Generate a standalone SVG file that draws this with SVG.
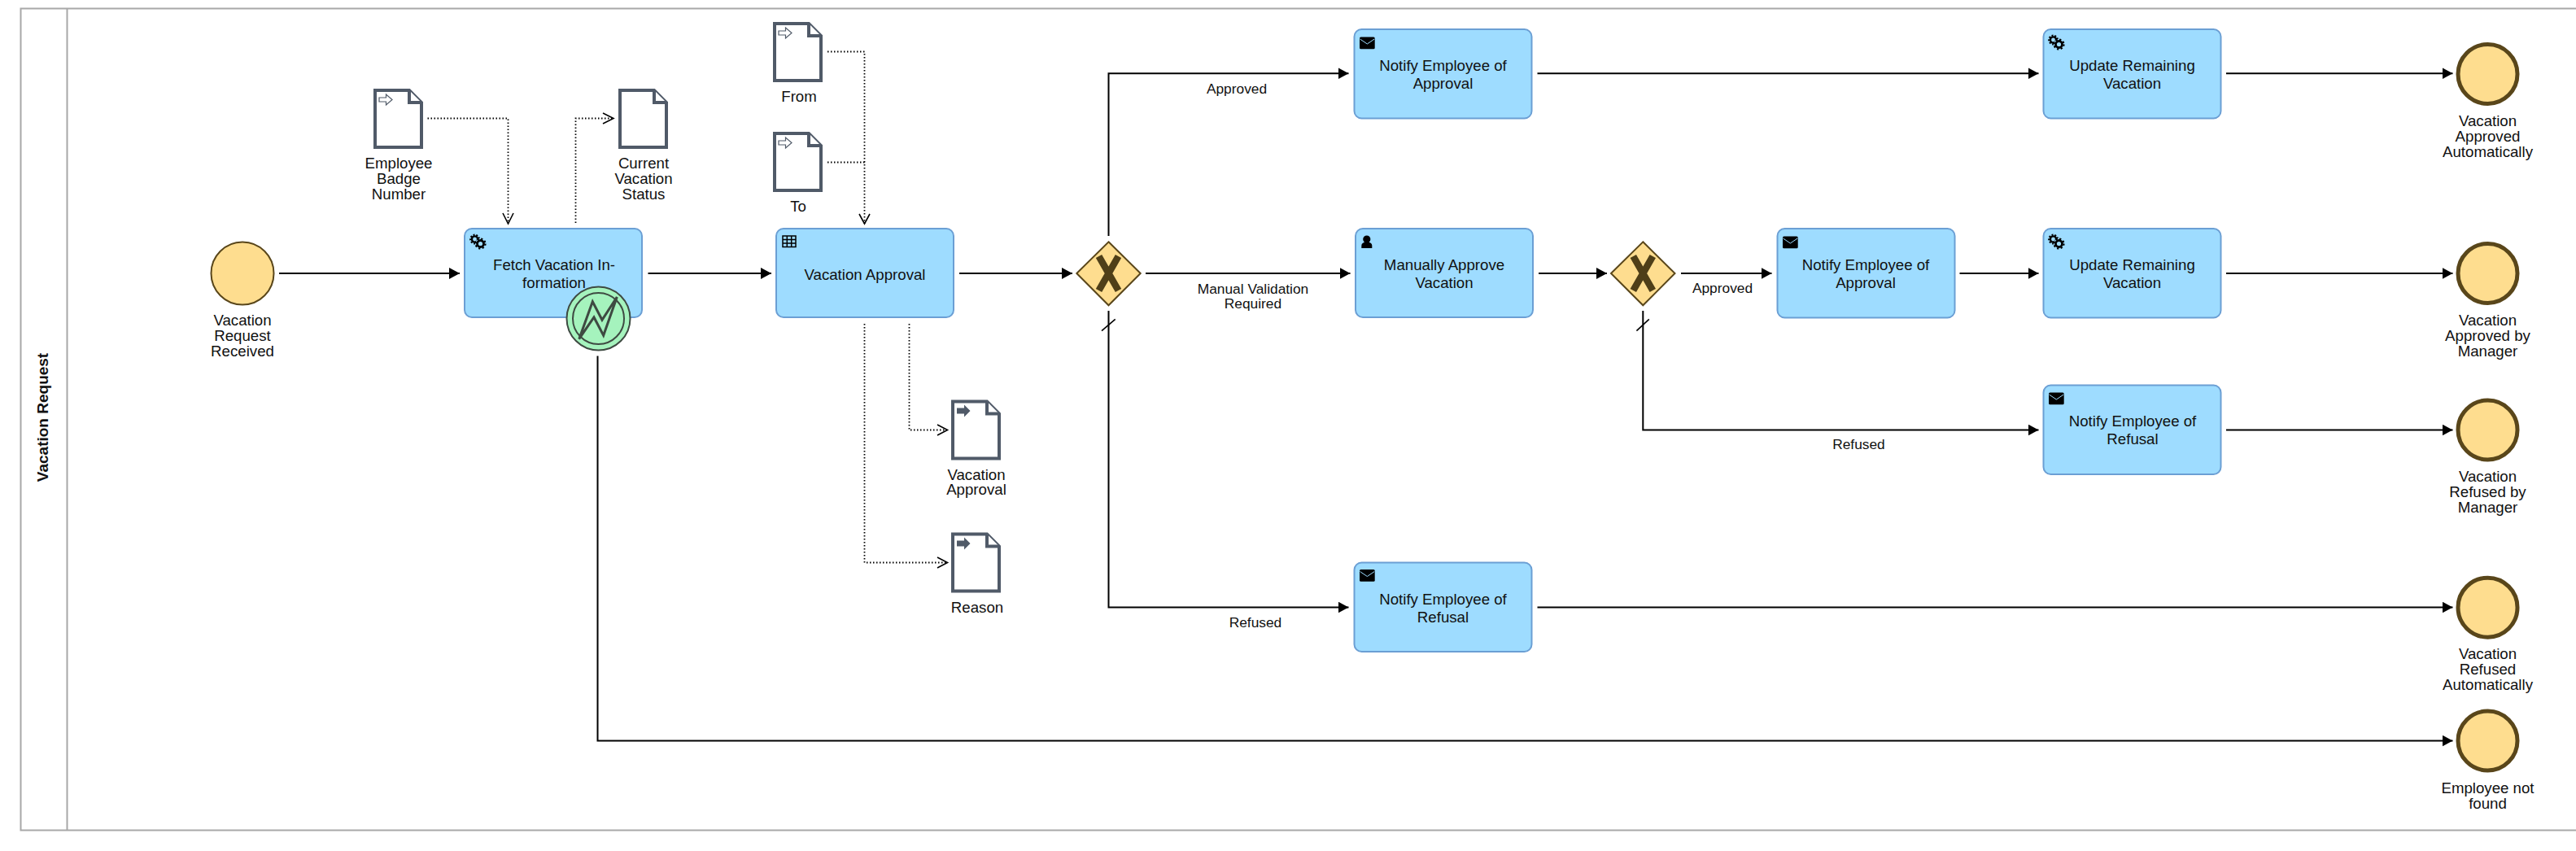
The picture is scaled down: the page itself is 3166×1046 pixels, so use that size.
<svg xmlns="http://www.w3.org/2000/svg" width="3166" height="1046" viewBox="0 0 3166 1046">
<style>
text{font-family:"Liberation Sans",Arial,sans-serif;fill:#111;text-anchor:middle}
.t,.l{font-size:18.670px}.f{font-size:17.330px}
.task{fill:#9edcff;stroke:#6b9fd4;stroke-width:2}
.ev{fill:#fedd8f;stroke:#59461a}
.gw{fill:#fedd8f;stroke:#59461a;stroke-width:2}
.x{fill:none;stroke:#4f3f18;stroke-width:8.500}
.doc{fill:#fff;stroke:#505a68;stroke-width:4}
.seq{fill:none;stroke:#000;stroke-width:2;marker-end:url(#a)}
.dot{fill:none;stroke:#000;stroke-width:1.800;stroke-dasharray:1.500 2.500}
.op{fill:none;stroke:#000;stroke-width:1.600}
</style>
<defs>
<marker id="a" markerUnits="userSpaceOnUse" markerWidth="14" markerHeight="16" refX="13" refY="7" orient="auto"><path d="M0 0L13 7L0 14z"/></marker>
<g id="gear"><circle cx="5.500" cy="6" r="3.600" fill="none" stroke="#000" stroke-width="2.400"/><circle cx="5.500" cy="6" r="5.400" fill="none" stroke="#000" stroke-width="2" stroke-dasharray="2 1.800"/><circle cx="12.500" cy="11.500" r="6.400" fill="#9edcff"/><circle cx="12.500" cy="11.500" r="4" fill="none" stroke="#000" stroke-width="2.800"/><circle cx="12.500" cy="11.500" r="6" fill="none" stroke="#000" stroke-width="2.200" stroke-dasharray="2.200 2.500"/></g>
<g id="mail"><rect width="18.700" height="14.700" rx="1.500" fill="#000"/><path d="M0.500 2.500L9.350 8.500L18.200 2.500" fill="none" stroke="#9edcff" stroke-width="1"/></g>
<g id="docin"><path class="doc" d="M2 2H44L59 17V72H2Z"/><path class="doc" d="M44 2V17H59"/><path d="M7 11H15.500V7L23 13.500L15.500 20V16H7Z" fill="#fff" stroke="#505a68" stroke-width="1.200"/></g>
<g id="docout"><path class="doc" d="M2 2H44L59 17V72H2Z"/><path class="doc" d="M44 2V17H59"/><path d="M7 10H16V6L23.500 13.500L16 21V17H7Z" fill="#505a68"/></g>
</defs>
<g id="pool"><rect x="25.500" y="10.500" width="3145" height="1010" fill="#fff" stroke="#a8a8a8" stroke-width="2"/><line x1="82.500" y1="10.500" x2="82.500" y2="1020.500" stroke="#a8a8a8" stroke-width="2"/><text transform="translate(59 513) rotate(-90)" style="font-size:19px;font-weight:bold">Vacation Request</text></g>
<g id="connectors">
<path class="seq" d="M343 336H565"/>
<path class="seq" d="M796.500 336H948"/>
<path class="seq" d="M1179 336H1318"/>
<path class="seq" d="M1362.500 290V90.300H1657.500"/>
<path class="seq" d="M1408 336H1659.500"/>
<path class="seq" d="M1362.500 382V746.500H1657.500"/>
<path class="op" d="M1354 406.700L1370.700 392.300"/>
<path class="seq" d="M1891 336H1975"/>
<path class="seq" d="M2066 336H2177.500"/>
<path class="seq" d="M2019.300 382V528.500H2505.500"/>
<path class="op" d="M2011.400 406.700L2026.800 392.300"/>
<path class="seq" d="M2408.500 336H2505.500"/>
<path class="seq" d="M1889.500 90.300H2505.500"/>
<path class="seq" d="M2736 90.300H3014.500"/>
<path class="seq" d="M2736 336H3014.500"/>
<path class="seq" d="M2736 528.500H3014.500"/>
<path class="seq" d="M1889.500 746.500H3014.500"/>
<path class="seq" d="M734.500 437.500V910.500H3014.500"/>
<path class="dot" d="M525.500 145.500H624.500V275"/><path class="op" d="M618 262L624.500 275L631 262"/>
<path class="dot" d="M707.500 274V145.500H753"/><path class="op" d="M741 139L754 145.500L741 152"/>
<path class="dot" d="M1017 63.500H1062.500V275"/><path class="dot" d="M1017 199.500H1062.500"/><path class="op" d="M1056 263L1062.500 275L1069 263"/>
<path class="dot" d="M1117.500 398V528.500H1163"/><path class="op" d="M1152 522L1164.500 528.500L1152 535"/>
<path class="dot" d="M1062.500 398V691.500H1163"/><path class="op" d="M1152 685L1164.500 691.500L1152 698"/>
</g>
<g id="start"><circle class="ev" cx="298" cy="336" r="38.500" stroke-width="2"/><text class="l" x="298" y="400">Vacation</text><text class="l" x="298" y="419">Request</text><text class="l" x="298" y="438">Received</text></g>
<g id="doc-employee"><use href="#docin" x="459" y="109"/><text class="l" x="490" y="207">Employee</text><text class="l" x="490" y="226">Badge</text><text class="l" x="490" y="245">Number</text></g>
<g id="doc-current"><path class="doc" d="M762 111H804L819 126V181H762Z"/><path class="doc" d="M804 111V126H819"/><text class="l" x="791" y="207">Current</text><text class="l" x="791" y="226">Vacation</text><text class="l" x="791" y="245">Status</text></g>
<g id="doc-from"><use href="#docin" x="950" y="27"/><text class="l" x="982" y="125">From</text></g>
<g id="doc-to"><use href="#docin" x="950" y="162"/><text class="l" x="981" y="260">To</text></g>
<g id="doc-approval"><use href="#docout" x="1169" y="491.500"/><text class="l" x="1200" y="590">Vacation</text><text class="l" x="1200" y="608">Approval</text></g>
<g id="doc-reason"><use href="#docout" x="1169" y="654.500"/><text class="l" x="1201" y="753">Reason</text></g>
<g id="task-fetch"><rect class="task" x="571" y="281" width="218" height="109" rx="9"/><use href="#gear" x="578" y="288"/><text class="t" x="681" y="332">Fetch Vacation In-</text><text class="t" x="681" y="354">formation</text></g>
<g id="boundary"><circle cx="735.500" cy="391.500" r="39" fill="#a5f3bd" stroke="#3e4a42" stroke-width="2"/><circle cx="735.500" cy="391.500" r="31.500" fill="none" stroke="#3e4a42" stroke-width="2"/><path d="M711.700 416.700L728.300 370.700L740 393.300L758.300 365L741.700 412.300L730 390Z" fill="none" stroke="#3e4a42" stroke-width="3"/></g>
<g id="task-approval"><rect class="task" x="954" y="281" width="218" height="109" rx="9"/><path d="M962 290H978V303.500H962ZM962 294.500H978M962 299H978M967.300 290V303.500M972.700 290V303.500" fill="none" stroke="#000" stroke-width="1.500"/><text class="t" x="1063" y="344">Vacation Approval</text></g>
<g id="gw1"><path class="gw" d="M1362.500 297.300L1401.700 336L1362.500 375.300L1323.300 336Z"/><path class="x" d="M1350.500 315L1374.500 357M1374.500 315L1350.500 357"/></g>
<g id="task-manual"><rect class="task" x="1666" y="281" width="218" height="109" rx="9"/><circle cx="1679.800" cy="294" r="4.600"/><path d="M1673.300 305V302Q1673.300 297.500 1679.800 297.500Q1686.300 297.500 1686.300 302V305Z"/><text class="t" x="1775" y="332">Manually Approve</text><text class="t" x="1775" y="354">Vacation</text></g>
<g id="gw2"><path class="gw" d="M2019.300 297.300L2058.500 336L2019.300 375.300L1980 336Z"/><path class="x" d="M2007.300 315L2031.300 357M2031.300 315L2007.300 357"/></g>
<g id="task-notify1"><rect class="task" x="1664.500" y="36" width="218" height="109.500" rx="9"/><use href="#mail" x="1671" y="45.500"/><text class="t" x="1773.500" y="87">Notify Employee of</text><text class="t" x="1773.500" y="109">Approval</text></g>
<g id="task-notify2"><rect class="task" x="2184.500" y="281" width="218" height="109.500" rx="9"/><use href="#mail" x="2191" y="290.500"/><text class="t" x="2293" y="332">Notify Employee of</text><text class="t" x="2293" y="354">Approval</text></g>
<g id="task-refusal2"><rect class="task" x="2511.500" y="473.500" width="218" height="109.500" rx="9"/><use href="#mail" x="2518" y="482.500"/><text class="t" x="2621" y="524">Notify Employee of</text><text class="t" x="2621" y="546">Refusal</text></g>
<g id="task-refusal1"><rect class="task" x="1664.500" y="691.500" width="218" height="109.500" rx="9"/><use href="#mail" x="1671" y="700"/><text class="t" x="1773.500" y="742.500">Notify Employee of</text><text class="t" x="1773.500" y="764.500">Refusal</text></g>
<g id="task-update1"><rect class="task" x="2511.500" y="36" width="218" height="109.500" rx="9"/><use href="#gear" x="2518" y="43"/><text class="t" x="2620.500" y="87">Update Remaining</text><text class="t" x="2620.500" y="109">Vacation</text></g>
<g id="task-update2"><rect class="task" x="2511.500" y="281" width="218" height="109.500" rx="9"/><use href="#gear" x="2518" y="288"/><text class="t" x="2620.500" y="332">Update Remaining</text><text class="t" x="2620.500" y="354">Vacation</text></g>
<g id="end1"><circle class="ev" cx="3057.500" cy="91" r="36.500" stroke-width="5"/><text class="l" x="3057.500" y="155">Vacation</text><text class="l" x="3057.500" y="174">Approved</text><text class="l" x="3057.500" y="193">Automatically</text></g>
<g id="end2"><circle class="ev" cx="3057.500" cy="336" r="36.500" stroke-width="5"/><text class="l" x="3057.500" y="400">Vacation</text><text class="l" x="3057.500" y="419">Approved by</text><text class="l" x="3057.500" y="438">Manager</text></g>
<g id="end3"><circle class="ev" cx="3057.500" cy="528.500" r="36.500" stroke-width="5"/><text class="l" x="3057.500" y="592">Vacation</text><text class="l" x="3057.500" y="611">Refused by</text><text class="l" x="3057.500" y="630">Manager</text></g>
<g id="end4"><circle class="ev" cx="3057.500" cy="746.700" r="36.500" stroke-width="5"/><text class="l" x="3057.500" y="810">Vacation</text><text class="l" x="3057.500" y="829">Refused</text><text class="l" x="3057.500" y="848">Automatically</text></g>
<g id="end5"><circle class="ev" cx="3057.500" cy="910.500" r="36.500" stroke-width="5"/><text class="l" x="3057.500" y="975">Employee not</text><text class="l" x="3057.500" y="994">found</text></g>
<g id="flow-labels"><text class="f" x="1520" y="115">Approved</text><text class="f" x="1540" y="360.500">Manual Validation</text><text class="f" x="1540" y="378.500">Required</text><text class="f" x="2117" y="360">Approved</text><text class="f" x="2284.500" y="552">Refused</text><text class="f" x="1543" y="770.500">Refused</text></g>
</svg>
